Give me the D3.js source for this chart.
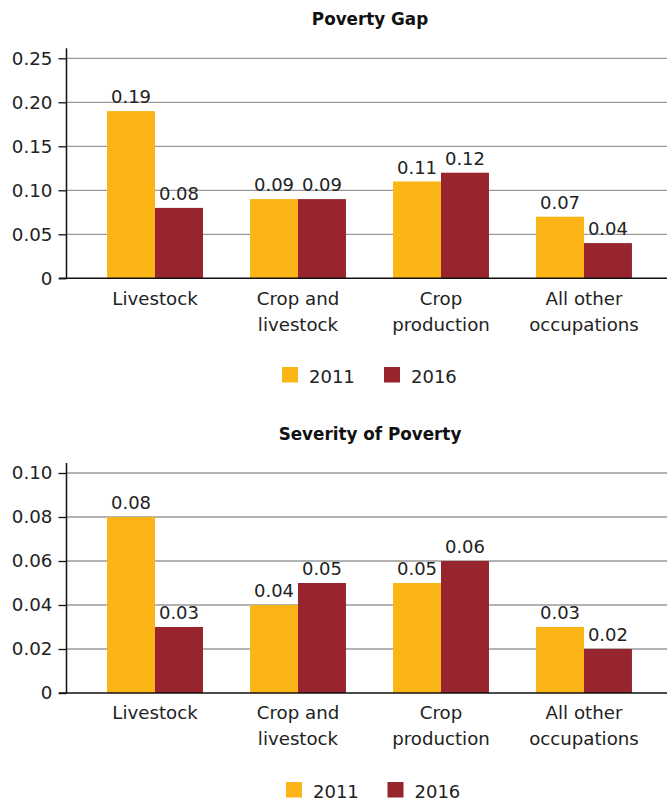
<!DOCTYPE html>
<html>
<head>
<meta charset="utf-8">
<script src="https://cdn.jsdelivr.net/npm/d3@7"></script>
<style>
  html, body { margin: 0; padding: 0; background: #fff; }
  svg { display: block; font-family: "DejaVu Sans", sans-serif; }
</style>
</head>
<body>
<svg id="chart" width="667" height="801"></svg>
<script>
// Occupation groups shown on both panels
const categories = [["Livestock"], ["Crop and", "livestock"], ["Crop", "production"], ["All other", "occupations"]];
const years = ["2011", "2016"];

// Poverty gap by occupation
const gap2011 = [0.19, 0.09, 0.11, 0.07];
const gap2016 = [0.08, 0.09, 0.12, 0.04];
const gapTicks = [0, 0.05, 0.10, 0.15, 0.20, 0.25];

// Severity of poverty by occupation
const sev2011 = [0.08, 0.04, 0.05, 0.03];
const sev2016 = [0.03, 0.05, 0.06, 0.02];
const sevTicks = [0, 0.02, 0.04, 0.06, 0.08, 0.10];

const colors = { "2011": "#FBB516", "2016": "#98242D" };

const svg = d3.select("#chart");

function panel(opts) {
  const { title, titleY, top, bottom, domain, ticks, s2011, s2016, labelY, legendY, legendX } = opts;
  const g = svg.append("g");

  const x = d3.scaleBand()
    .domain(categories.map((c, i) => i))
    .range([66, 673])
    .paddingInner(0.329)
    .paddingOuter(0.287);
  const xs = d3.scaleBand().domain(years).range([0, x.bandwidth()]);
  const y = d3.scaleLinear().domain(domain).range([bottom, top]);

  // title
  g.append("text")
    .attr("x", 370).attr("y", titleY)
    .attr("text-anchor", "middle")
    .attr("font-weight", "bold")
    .attr("font-size", 16.8)
    .attr("fill", "#111")
    .text(title);

  // gridlines
  g.append("g").selectAll("line")
    .data(ticks.filter(t => t > 0))
    .join("line")
    .attr("x1", 66).attr("x2", 667)
    .attr("y1", d => y(d)).attr("y2", d => y(d))
    .attr("stroke", "#9a9a9a").attr("stroke-width", 1.3);

  // y axis
  const yAxis = d3.axisLeft(y)
    .tickValues(ticks)
    .tickSize(8)
    .tickPadding(6)
    .tickFormat(d => d === 0 ? "0" : d3.format(".2f")(d));
  const ya = g.append("g").attr("transform", "translate(66.5,0)").call(yAxis);
  ya.select(".domain").remove();
  ya.selectAll(".tick line").attr("stroke", "#111").attr("stroke-width", 1.3);
  ya.selectAll(".tick text").attr("font-size", 18.3).attr("fill", "#222")
    .attr("font-family", "DejaVu Sans, sans-serif");
  g.append("line")
    .attr("x1", 66.5).attr("x2", 66.5)
    .attr("y1", top - 10).attr("y2", bottom)
    .attr("stroke", "#111").attr("stroke-width", 1.5);

  // bars
  const rows = categories.map((c, i) => ({ i, vals: [s2011[i], s2016[i]] }));
  const groups = g.append("g").selectAll("g")
    .data(rows).join("g")
    .attr("transform", d => `translate(${x(d.i)},0)`);
  groups.selectAll("rect")
    .data(d => d.vals.map((v, k) => ({ year: years[k], v })))
    .join("rect")
    .attr("x", d => xs(d.year))
    .attr("width", xs.bandwidth())
    .attr("y", d => y(d.v))
    .attr("height", d => y(0) - y(d.v))
    .attr("fill", d => colors[d.year]);
  groups.selectAll("text.val")
    .data(d => d.vals.map((v, k) => ({ year: years[k], v })))
    .join("text")
    .attr("class", "val")
    .attr("x", d => xs(d.year) + xs.bandwidth() / 2)
    .attr("y", d => y(d.v) - 8)
    .attr("text-anchor", "middle")
    .attr("font-size", 18)
    .attr("fill", "#222")
    .text(d => d3.format(".2f")(d.v));

  // baseline
  g.append("line")
    .attr("x1", 59).attr("x2", 667)
    .attr("y1", bottom).attr("y2", bottom)
    .attr("stroke", "#111").attr("stroke-width", 1.6);

  // category labels
  const cl = g.append("g").selectAll("text")
    .data(categories).join("text")
    .attr("x", (d, i) => x(i) + x.bandwidth() / 2)
    .attr("y", labelY)
    .attr("text-anchor", "middle")
    .attr("font-size", 18.2)
    .attr("fill", "#222");
  cl.selectAll("tspan")
    .data(d => d).join("tspan")
    .attr("x", function () { return this.parentNode.getAttribute("x"); })
    .attr("dy", (d, k) => k === 0 ? 0 : 26)
    .text(d => d);

  // legend
  const leg = g.append("g").selectAll("g")
    .data(years).join("g")
    .attr("transform", (d, k) => `translate(${legendX[k]},${legendY})`);
  leg.append("rect")
    .attr("x", 0).attr("y", -15.5)
    .attr("width", 16).attr("height", 15.5)
    .attr("fill", d => colors[d]);
  leg.append("text")
    .attr("x", 27).attr("y", 0)
    .attr("font-size", 18)
    .attr("fill", "#222")
    .text(d => d);
}

panel({
  title: "Poverty Gap", titleY: 25,
  top: 58.3, bottom: 278.3, domain: [0, 0.25], ticks: gapTicks,
  s2011: gap2011, s2016: gap2016,
  labelY: 305, legendY: 382.5, legendX: [282, 384]
});

panel({
  title: "Severity of Poverty", titleY: 440,
  top: 473, bottom: 693, domain: [0, 0.10], ticks: sevTicks,
  s2011: sev2011, s2016: sev2016,
  labelY: 719, legendY: 797.5, legendX: [286, 387.5]
});
</script>
</body>
</html>
